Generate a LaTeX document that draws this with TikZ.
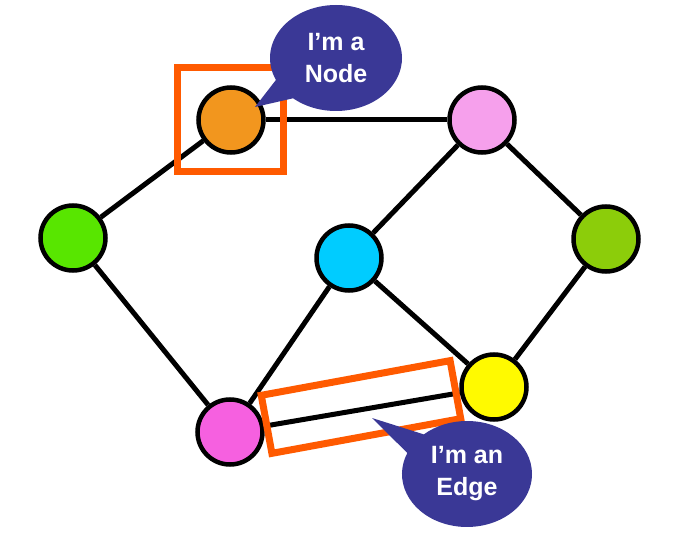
\documentclass[tikz,border=0pt]{standalone}
\usepackage{fontspec}
\setmainfont{Liberation Sans}
\usepackage{tikz}
\usetikzlibrary{shapes.callouts,backgrounds}

\definecolor{nodeorange}{RGB}{242,150,30}
\definecolor{lightpink}{RGB}{246,160,236}
\definecolor{deeppink}{RGB}{246,96,224}
\definecolor{leafgreen}{RGB}{88,230,0}
\definecolor{olivegreen}{RGB}{140,205,10}
\definecolor{skyblue}{RGB}{0,204,255}
\definecolor{sunyellow}{RGB}{255,250,0}
\definecolor{boxorange}{RGB}{255,90,0}
\definecolor{talkblue}{RGB}{58,56,150}

\begin{document}
\begin{tikzpicture}[x=1pt,y=-1pt]
\tikzset{vertex/.style = {shape=circle,draw,line width=4.5pt,minimum size=65pt,inner sep=0pt}}
\tikzset{link/.style = {line width=5pt}}
\tikzset{markbox/.style = {draw=boxorange,line width=7pt,inner sep=0pt}}
\tikzset{talk/.style = {ellipse callout,fill=talkblue,text=white,font=\fontsize{25}{32}\selectfont\bfseries,
  align=center,inner sep=0pt,callout pointer arc=25}}
\useasboundingbox (0,0) rectangle (675,540);
% vertices
\node[vertex,fill=nodeorange] (o) at (231,120) {};
\node[vertex,fill=lightpink] (p) at (482,120) {};
\node[vertex,fill=leafgreen] (g) at (73,238) {};
\node[vertex,fill=skyblue] (c) at (349,258) {};
\node[vertex,fill=olivegreen] (v) at (606,239) {};
\node[vertex,fill=deeppink] (q) at (230,432) {};
\node[vertex,fill=sunyellow] (y) at (494,387) {};
%edges
\begin{scope}[on background layer]
\path[link] (o) edge (p);
\path[link] (o) edge (g);
\path[link] (g) edge (q);
\path[link] (q) edge (c);
\path[link] (c) edge (p);
\path[link] (p) edge (v);
\path[link] (v) edge (y);
\path[link] (c) edge (y);
\path[link] (q) edge (y);
\end{scope}
% boxes
\node[markbox,minimum width=106pt,minimum height=104pt] (nodebox) at (230,120) {};
\node[markbox,minimum width=192pt,minimum height=59pt,rotate=10.4] (edgebox) at (361,407) {};
% callouts
\coordinate (nodetip) at (255,107);
\coordinate (edgetip) at (372,418);
\node[talk,minimum width=132pt,minimum height=106pt,callout absolute pointer=(nodetip)] (nodetalk) at (336,58) {I’m a\\Node};
\node[talk,minimum width=130pt,minimum height=106pt,callout absolute pointer=(edgetip)] (edgetalk) at (467,474) {I’m an\\Edge};
\end{tikzpicture}
\end{document}
